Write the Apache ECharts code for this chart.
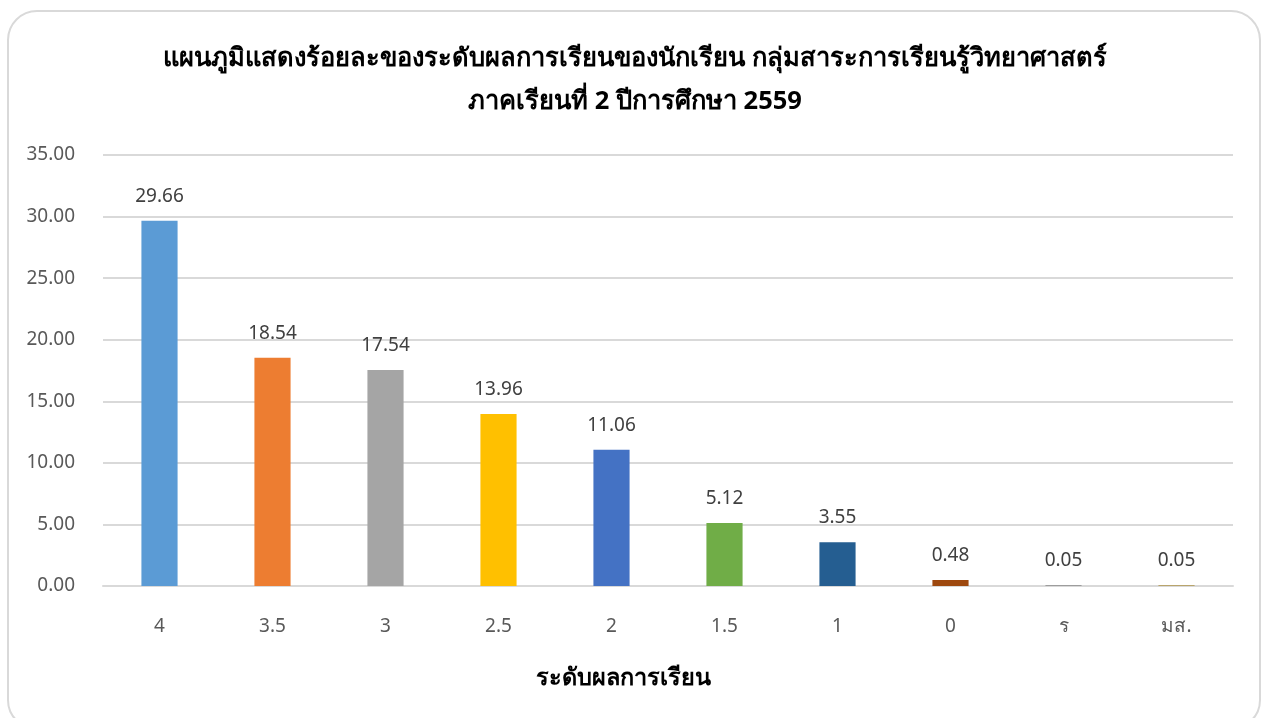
<!DOCTYPE html>
<html>
<head>
<meta charset="utf-8">
<script src="https://cdn.jsdelivr.net/npm/echarts@6/dist/echarts.min.js"></script>
<style>
    html, body { margin: 0; padding: 0; background: #ffffff; }
    #frame {
        position: absolute; left: 7px; top: 10px; width: 1254px; height: 720px;
        border: 2px solid #d9d9d9; border-radius: 30px; box-sizing: border-box;
    }
    #main { position: absolute; left: 0; top: 0; width: 1270px; height: 718px; }
</style>
</head>
<body>
<div id="frame"></div>
<div id="main"></div>
<script>
const log = console.log.bind(console)
const e = sel => document.querySelector(sel)

const grades = ['4', '3.5', '3', '2.5', '2', '1.5', '1', '0', 'ร', 'มส.']
const percents = [29.66, 18.54, 17.54, 13.96, 11.06, 5.12, 3.55, 0.48, 0.05, 0.05]
const barColors = ['#5B9BD5', '#ED7D31', '#A5A5A5', '#FFC000', '#4472C4', '#70AD47', '#255E91', '#9E480E', '#636363', '#997300']
const yTicks = [0, 5, 10, 15, 20, 25, 30, 35]

const titleText = 'แผนภูมิแสดงร้อยละของระดับผลการเรียนของนักเรียน กลุ่มสาระการเรียนรู้วิทยาศาสตร์\nภาคเรียนที่ 2 ปีการศึกษา 2559'
const xName = 'ระดับผลการเรียน'

const font = '"Noto Sans", "DejaVu Sans", sans-serif'

const __main = () => {
    let chart = echarts.init(e('#main'))
    let data = percents.map((v, i) => ({
        value: v,
        itemStyle: { color: barColors[i] },
    }))
    let option = {
        animation: false,
        textStyle: { fontFamily: font },
        title: {
            text: titleText,
            left: 'center',
            top: 32,
            textStyle: {
                fontFamily: font,
                fontSize: 25.5,
                fontWeight: 'bold',
                color: '#000000',
                lineHeight: 43,
            },
        },
        grid: {
            left: 103,
            right: 37,
            top: 155,
            bottom: 132,
            containLabel: false,
        },
        xAxis: {
            type: 'category',
            data: grades,
            name: xName,
            nameLocation: 'middle',
            nameGap: 80,
            nameTextStyle: {
                fontFamily: font,
                fontSize: 23.5,
                fontWeight: 'bold',
                color: '#000000',
                padding: [0, 90, 0, 0],
            },
            axisLine: { lineStyle: { color: '#d9d9d9', width: 2 } },
            axisTick: { show: false },
            axisLabel: {
                margin: 31,
                fontSize: 19,
                color: '#595959',
                fontFamily: font,
            },
        },
        yAxis: {
            type: 'value',
            min: yTicks[0],
            max: yTicks[yTicks.length - 1],
            interval: 5,
            axisLine: { show: false },
            axisTick: { show: false },
            splitLine: { lineStyle: { color: '#d9d9d9', width: 2 } },
            axisLabel: {
                margin: 28,
                fontSize: 19,
                color: '#595959',
                fontFamily: font,
                formatter: v => v.toFixed(2),
            },
        },
        series: [
            {
                type: 'bar',
                data: data,
                barWidth: '32%',
                label: {
                    show: true,
                    position: 'top',
                    distance: 15,
                    fontSize: 19,
                    color: '#404040',
                    fontFamily: font,
                    formatter: p => p.value.toFixed(2),
                },
            },
        ],
    }
    chart.setOption(option)
}

__main()
</script>
</body>
</html>
